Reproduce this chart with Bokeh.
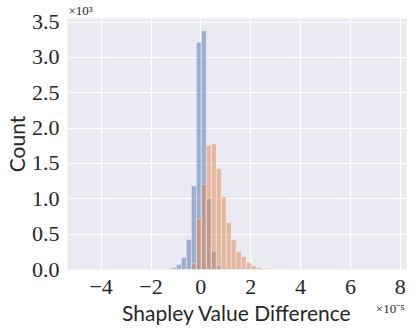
from bokeh.plotting import figure
from bokeh.models import (Range1d, FixedTicker, CustomJSTickFormatter, Title, LinearAxis)
from bokeh.embed import file_html
from bokeh.resources import INLINE

# bin left edges in units of 1e-5, width 0.2e-5
bin_left = [-1.78, -1.58, -1.38, -1.18, -0.98, -0.78, -0.58, -0.38, -0.18, 0.02,
            0.22, 0.42, 0.62, 0.82, 1.02, 1.22, 1.42, 1.62, 1.82, 2.02,
            2.22, 2.42, 2.62, 2.82]
bin_width = 0.2
blue_counts = [2, 5, 10, 25, 70, 169, 425, 1183, 3215, 3376, 1000, 250, 50, 0,
               0, 0, 0, 0, 0, 0, 0, 0, 0, 0]
orange_counts = [0, 0, 0, 0, 0, 0, 10, 80, 714, 1207, 1756, 1779, 1427, 1033,
                 666, 423, 258, 183, 103, 52, 30, 12, 18, 0]
x_ticks = [-4, -2, 0, 2, 4, 6, 8]
y_ticks = [0, 500, 1000, 1500, 2000, 2500, 3000, 3500]
x_offset_text = "×10⁻⁵"
y_offset_text = "×10³"

bin_right = [b + bin_width for b in bin_left]

SERIF = "Liberation Serif"
INK = "#262626"

p = figure(frame_width=339, frame_height=251, output_backend="svg", toolbar_location=None,
           x_range=Range1d(-5.35, 8.25), y_range=Range1d(0, 3550),
           min_border_left=61, min_border_right=6, min_border_top=18, min_border_bottom=40)
p.background_fill_color = "#EAEAF2"
p.border_fill_color = "white"
p.outline_line_color = None

p.quad(left=bin_left, right=bin_right, bottom=0, top=blue_counts,
       fill_color="#4C72B0", fill_alpha=0.5, line_color="white", line_alpha=0.5, line_width=0.8)
p.quad(left=bin_left, right=bin_right, bottom=0, top=orange_counts,
       fill_color="#DD8452", fill_alpha=0.5, line_color="white", line_alpha=0.5, line_width=0.8)

p.xgrid.grid_line_color = "white"
p.ygrid.grid_line_color = "white"
p.xgrid.grid_line_width = 1.2
p.ygrid.grid_line_width = 1.2
p.grid.level = "underlay"

xa = p.xaxis[0]
ya = p.yaxis[0]
xa.ticker = FixedTicker(ticks=x_ticks)
ya.ticker = FixedTicker(ticks=y_ticks)
xa.formatter = CustomJSTickFormatter(code="return tick < 0 ? '\u2212' + Math.abs(tick) : '' + tick;")
ya.formatter = CustomJSTickFormatter(code="return (tick/1000).toFixed(1);")

# secondary x axis carrying the axis title and the exponent note
p.extra_x_ranges = {"note": Range1d(-5.35, 8.25)}
xa2 = LinearAxis(x_range_name="note", ticker=FixedTicker(ticks=[7.6]),
                 formatter=CustomJSTickFormatter(code="return '%s';" % x_offset_text))
p.add_layout(xa2, "below")

for ax in (xa, ya, xa2):
    ax.axis_line_color = None
    ax.major_tick_line_color = None
    ax.minor_tick_line_color = None
    ax.major_tick_out = 0
    ax.major_tick_in = 0
    ax.minor_tick_out = 0
    ax.minor_tick_in = 0
    ax.major_label_text_font = SERIF
    ax.major_label_text_font_size = "22px"
    ax.major_label_text_color = INK
    ax.axis_label_text_font = "Lato"
    ax.axis_label_text_font_style = "normal"
    ax.axis_label_text_font_size = "21px"
    ax.axis_label_text_color = INK

xa2.major_label_text_font_size = "13px"
xa2.major_label_standoff = 4
xa2.axis_label = "Shapley Value Difference"
xa2.axis_label_standoff = -19

ya.axis_label = "Count"
xa.major_label_standoff = 10
ya.major_label_standoff = 8
ya.axis_label_standoff = 0

p.add_layout(Title(text=y_offset_text, align="left", offset=1, standoff=1,
                   text_font=SERIF, text_font_size="13px", text_font_style="normal",
                   text_color=INK), "above")

open("out.html", "w").write(file_html(p, INLINE))
